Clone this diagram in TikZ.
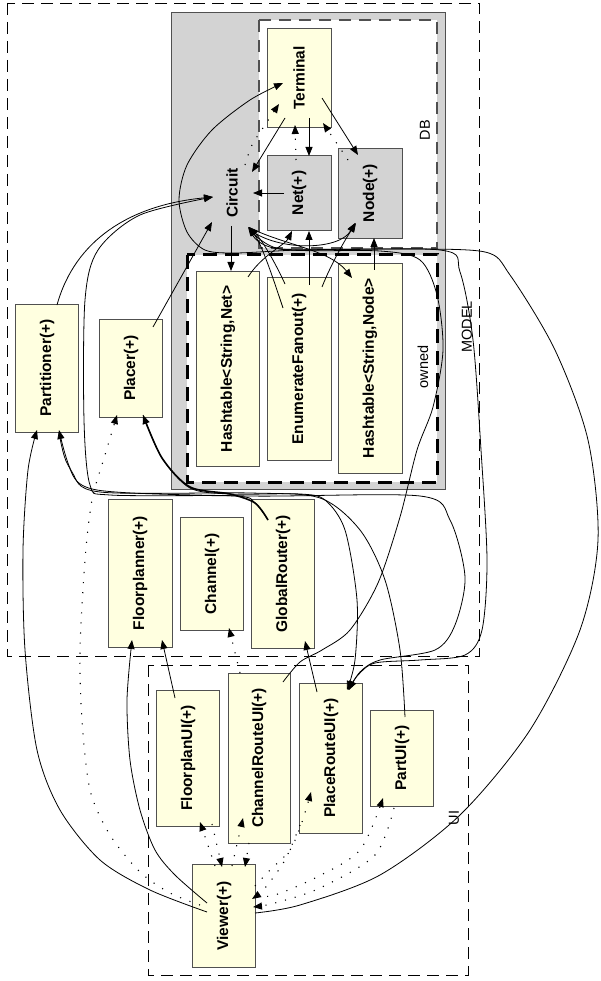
\documentclass[tikz,border=0pt]{standalone}
\usepackage{fontspec}
\setmainfont{Liberation Sans}
\usetikzlibrary{arrows.meta, positioning}
\definecolor{LY}{RGB}{255,255,224}
\definecolor{GR}{RGB}{211,211,211}
\definecolor{DG}{RGB}{80,80,80}
\newcommand{\vtxt}[1]{\rotatebox{90}{#1}}

\begin{document}
\begin{tikzpicture}[x=1pt, y=-1pt,
  cls/.style={draw=DG, fill=LY, line width=0.9pt, inner sep=0pt,
              font=\bfseries\fontsize{15.5}{17}\selectfont},
  clsdb/.style={cls, fill=GR},
  grp/.style={dash pattern=on 12pt off 7pt, line width=0.8pt},
  lbl/.style={inner sep=0pt, font=\fontsize{14.5}{16}\selectfont},
  arr/.style={-{Triangle[length=9pt,width=7pt]}, line width=0.8pt},
  dep/.style={arr, line width=1.1pt, dash pattern=on 1.1pt off 9pt}
]
\useasboundingbox (0,0) rectangle (600,981);

% Packages
\draw[grp] (7,3) rectangle (479,656);
\draw[grp] (148,665) rectangle (468,975);
\draw[fill=GR, draw=DG, line width=0.9pt] (171,12) rectangle (445,489);
\draw[fill=white, draw=DG, line width=1.1pt, dash pattern=on 12pt off 8pt] (259,20) rectangle (437,248);
\draw[fill=white, line width=3pt, dash pattern=on 14pt off 8pt] (187,255) rectangle (437,482);
\node[lbl] (modell) at (467,327) {\vtxt{MODEL}};
\node[lbl] (dbl)    at (425,130) {\vtxt{DB}};
\node[lbl] (ownl)   at (423,367) {\vtxt{owned}};
\node[lbl] (uil)    at (454,818) {\vtxt{UI}};

% Classes
\node[cls, minimum width=64pt, minimum height=99pt]  (term)    at (299,78)  {\vtxt{Terminal}};
\node[clsdb, minimum width=64pt, minimum height=75pt] (net)    at (299,193) {\vtxt{Net(+)}};
\node[clsdb, minimum width=64pt, minimum height=90pt] (nd)     at (370,193) {\vtxt{Node(+)}};
\node[cls, draw=none, fill=none] (circ) at (232,193) {\vtxt{Circuit}};
\node[cls, minimum width=63pt, minimum height=195pt] (hnet)    at (228,369) {\vtxt{Hashtable<String,Net>}};
\node[cls, minimum width=64pt, minimum height=183pt] (ef)      at (299,369) {\vtxt{EnumerateFanout(+)}};
\node[cls, minimum width=64pt, minimum height=210pt] (hnode)   at (370,368) {\vtxt{Hashtable<String,Node>}};
\node[cls, minimum width=63pt, minimum height=128pt] (part)    at (47,368)  {\vtxt{Partitioner(+)}};
\node[cls, minimum width=63pt, minimum height=98pt]  (placer)  at (131,368) {\vtxt{Placer(+)}};
\node[cls, minimum width=64pt, minimum height=148pt] (floor)   at (140,573) {\vtxt{Floorplanner(+)}};
\node[cls, minimum width=63pt, minimum height=113pt] (chan)    at (212,574) {\vtxt{Channel(+)}};
\node[cls, minimum width=63pt, minimum height=149pt] (grouter) at (283,574) {\vtxt{GlobalRouter(+)}};
\node[cls, minimum width=63pt, minimum height=136pt] (floorui) at (188,758) {\vtxt{FloorplanUI(+)}};
\node[cls, minimum width=62pt, minimum height=170pt] (chanui)  at (259,758) {\vtxt{ChannelRouteUI(+)}};
\node[cls, minimum width=63pt, minimum height=150pt] (prui)    at (331,758) {\vtxt{PlaceRouteUI(+)}};
\node[cls, minimum width=63pt, minimum height=96pt]  (partui)  at (402,758) {\vtxt{PartUI(+)}};
\node[cls, minimum width=63pt, minimum height=103pt] (viewer)  at (224,916) {\vtxt{Viewer(+)}};

% DB links
\draw[arr] ([shift={(10,40)}]term.center) -- ([shift={(10,-37)}]net.center);
\draw[arr] ([shift={(23,20)}]term.center) -- ([shift={(-12,-38)}]nd.center);
\draw[arr] ([shift={(-14,40)}]term.center) -- ([shift={(20,-21)}]circ.center);
\draw[arr] ([shift={(-15,0)}]net.center) -- ([shift={(21,0)}]circ.center);
\draw[arr] ([shift={(-1,33)}]circ.center) -- ([shift={(3,-98)}]hnet.center);
\draw[arr] ([shift={(20,-92)}]hnet.center) .. controls (262,255) and (285,245) .. ([shift={(-7,38)}]net.center);
\draw[arr] ([shift={(10,-84)}]ef.center) -- ([shift={(10,38)}]net.center);
\draw[arr] ([shift={(23,-82)}]ef.center) .. controls (332,262) and (345,240) .. ([shift={(-14,30)}]nd.center);
\draw[arr] ([shift={(4,-98)}]hnode.center) -- ([shift={(4,45)}]nd.center);
\draw[arr] ([shift={(18,35)}]circ.center) .. controls (285,245) and (330,250) .. ([shift={(-18,-90)}]hnode.center);
\draw[arr] ([shift={(-14,-85)}]ef.center) .. controls (275,262) and (262,240) .. ([shift={(17,34)}]circ.center);
\draw[arr] ([shift={(-16,-61)}]ef.center) .. controls (272,275) and (262,245) .. ([shift={(17,34)}]circ.center);
\draw[arr] ([shift={(18,37)}]circ.center) .. controls (280,252) and (340,250) .. ([shift={(-15,30)}]nd.center);

% Tools to circuit
\draw[arr] ([shift={(10,-63)}]part.center) .. controls (75,240) and (130,205) .. ([shift={(-19,4)}]circ.center);
\draw[arr] ([shift={(22,-41)}]placer.center) -- ([shift={(-20,29)}]circ.center);
\draw[arr] plot[smooth, tension=0.5] coordinates {([shift={(-15,-54)}]grouter.center) (255,503) (235,496) (110,495) (90,485) (84,420) (85,300) (98,250) (140,215) ([shift={(-19,4)}]circ.center)};
\draw[arr, line width=1.6pt] plot[smooth, tension=0.5] coordinates {([shift={(-15,-54)}]grouter.center) (255,503) (230,494) (190,487) (162,458) ([shift={(12,47)}]placer.center)};
\draw[arr] plot[smooth, tension=0.5] coordinates {([shift={(12,47)}]placer.center) (162,458) (190,488) (230,494) (300,494) (325,500) (345,530) (357,600) (355,660) ([shift={(16,-68)}]prui.center)};
\draw[arr] plot[smooth, tension=0.5] coordinates {([shift={(12,64)}]part.center) (68,465) (97,490) (250,496) (420,496) (450,520) (465,577) (455,625) (435,650) (380,660) (360,672) ([shift={(18,-68)}]prui.center)};
\draw[arr] plot[smooth, tension=0.5] coordinates {([shift={(3,-41)}]partui.center) (400,650) (385,580) (360,530) (320,498) (250,493) (100,492) (72,472) ([shift={(12,62)}]part.center)};
\draw[arr] plot[smooth, tension=0.5] coordinates {([shift={(18,37)}]circ.center) (280,249) (440,250) (460,272) (473,340) (481,450) (487,560) (482,630) (465,655) (420,660) (375,663) (358,675) ([shift={(17,-68)}]prui.center)};
\draw[arr] plot[smooth, tension=0.5] coordinates {([shift={(24,-76)}]chanui.center) (300,662) (322,650) (350,630) (378,583) (400,517) (417,450) (433,407) (443,350) (437,295) (420,260) (380,251) (280,249) ([shift={(16,34)}]circ.center)};
\draw[arr] plot[smooth, tension=0.5] coordinates {([shift={(31,-3)}]viewer.center) (300,905) (380,875) (460,815) (530,730) (580,630) (598,540) (588,440) (555,350) (510,275) (485,252) (400,249) (300,250) (235,253) (205,250) (187,232) (179,200) (187,165) (212,130) (250,100) ([shift={(-16,5)}]term.center)};

% Viewer and UI links
\draw[arr] plot[smooth, tension=0.5] coordinates {([shift={(-17,-4)}]viewer.center) (150,890) (100,860) (60,810) (37,750) (25,650) (23,550) (28,470) ([shift={(-10,62)}]part.center)};
\draw[arr] plot[smooth, tension=0.5] coordinates {([shift={(-17,-13)}]viewer.center) (175,875) (155,850) (140,810) (130,760) (127,700) ([shift={(-8,67)}]floor.center)};
\draw[arr] ([shift={(-13,-60)}]floorui.center) -- ([shift={(22,67)}]floor.center);
\draw[arr] ([shift={(-14,-66)}]prui.center) -- ([shift={(22,67)}]grouter.center);

% Dependencies
\draw[dep] plot[smooth, tension=0.5] coordinates {([shift={(-24,-11)}]viewer.center) (170,893) (140,872) (110,835) (90,790) (82,720) (80,650) (85,560) (92,500) (105,455) ([shift={(-14,47)}]placer.center)};
\draw[dep] ([shift={(-9,-50)}]viewer.center) -- ([shift={(12,64)}]floorui.center);
\draw[dep] ([shift={(24,66)}]floorui.center) -- ([shift={(-2,-49)}]viewer.center);
\draw[dep] ([shift={(8,-50)}]viewer.center) -- ([shift={(-16,60)}]chanui.center);
\draw[dep] ([shift={(-10,85)}]chanui.center) -- ([shift={(21,-49)}]viewer.center);
\draw[dep] plot[smooth, tension=0.5] coordinates {([shift={(31,-30)}]viewer.center) (270,870) (290,850) (302,822) ([shift={(-20,34)}]prui.center)};
\draw[dep] plot[smooth, tension=0.5] coordinates {([shift={(-31,67)}]prui.center) (285,860) (265,888) ([shift={(28,-17)}]viewer.center)};
\draw[dep] plot[smooth, tension=0.5] coordinates {([shift={(33,-20)}]viewer.center) (275,895) (317,877) (360,850) ([shift={(-19,40)}]partui.center)};
\draw[dep] plot[smooth, tension=0.5] coordinates {([shift={(-8,50)}]partui.center) (375,855) (320,888) (275,903) ([shift={(29,-9)}]viewer.center)};
\draw[dep] ([shift={(-19,-85)}]chanui.center) -- ([shift={(17,54)}]chan.center);
\draw[dep] plot[smooth, tension=0.5] coordinates {([shift={(13,-28)}]circ.center) (252,145) (265,125) ([shift={(-20,26)}]term.center)};
\draw[dep] ([shift={(-3,-33)}]net.center) -- ([shift={(-4,47)}]term.center);
\draw[dep] ([shift={(-22,-33)}]nd.center) -- ([shift={(24,45)}]term.center);
\end{tikzpicture}
\end{document}
